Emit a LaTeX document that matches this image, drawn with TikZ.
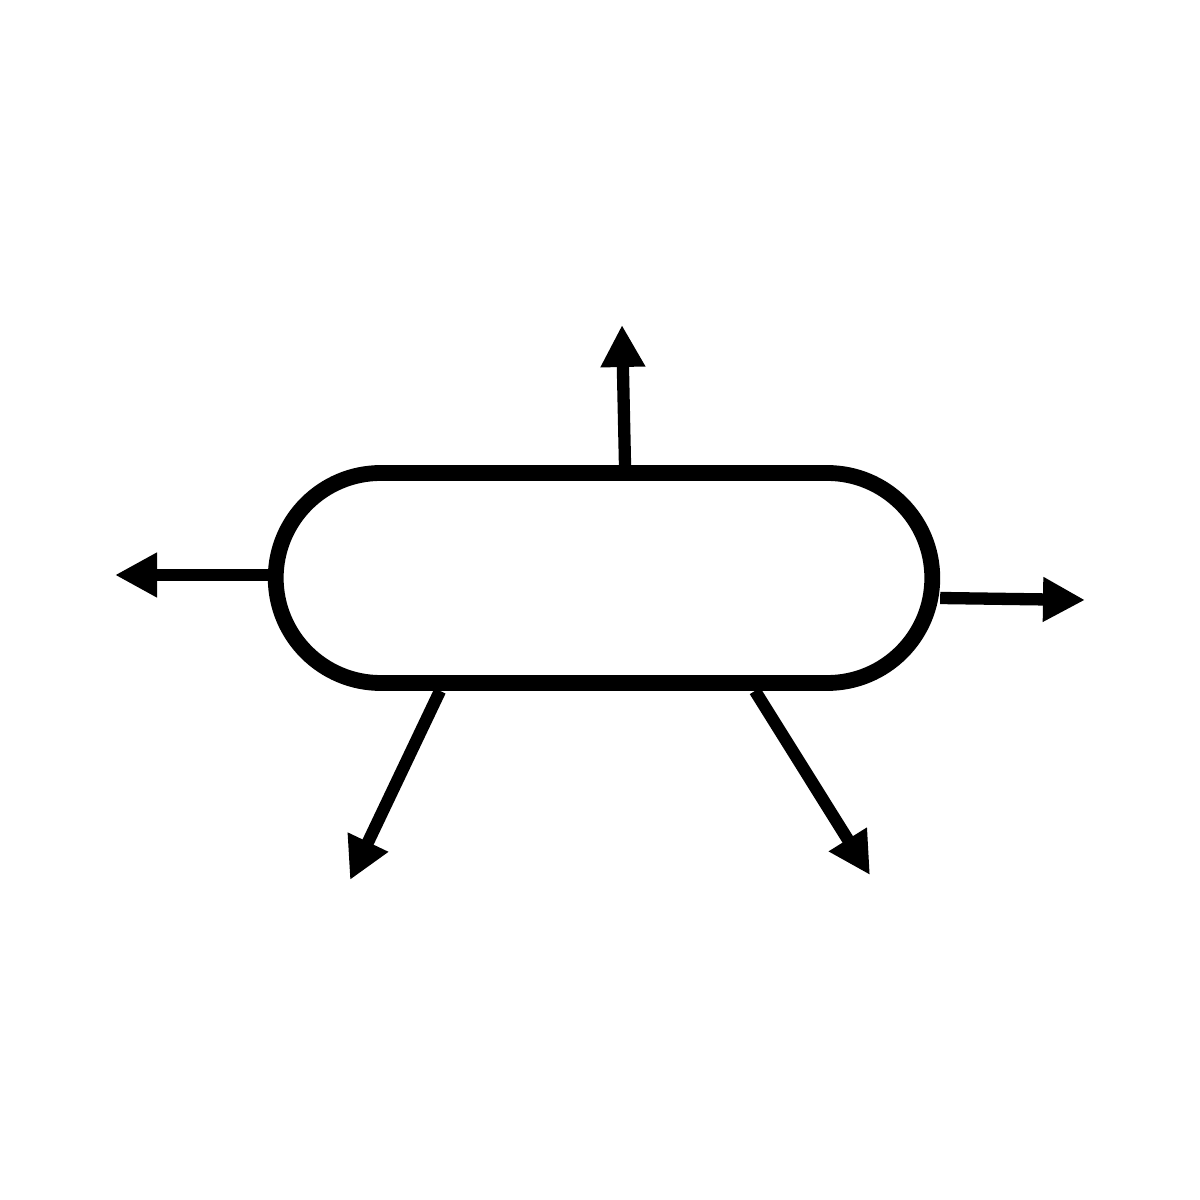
\documentclass[tikz,border=0pt]{standalone}
\usetikzlibrary{arrows.meta}
\usetikzlibrary{shapes.misc}
\usetikzlibrary{positioning}
\tikzset {
  % the central capsule
  pod/.style = {
    draw = black,
    rounded rectangle,
    line width = 4.5pt,
    minimum width = 6.8cm,
    minimum height = 2.1cm
  },
  % rays leaving the capsule
  ray/.style = {
    draw = black,
    line width = 3.5pt,
    -{Triangle[length=0.42cm,width=0.42cm]}
  }
}
\begin{document}
\begin{tikzpicture}
    \useasboundingbox[fill=white] (0,0) rectangle (12,12);
    \node[pod] (pod) at (6.04,6.22) {};

    \coordinate (tip-up) at (6.22,8.75);
    \coordinate (tip-left) at (1.15,6.25);
    \coordinate (tip-right) at (10.85,6.0);
    \coordinate (tip-sw) at (3.50,3.20);
    \coordinate (tip-se) at (8.70,3.25);

    \draw[ray] ([xshift=0.21cm]pod.north) -- (tip-up);
    \draw[ray] ([yshift=0.03cm]pod.west) -- (tip-left);
    \draw[ray] ([yshift=-0.2cm]pod.east) -- (tip-right);
    \draw[ray] ([xshift=-1.64cm]pod.south) -- (tip-sw);
    \draw[ray] ([xshift=1.51cm]pod.south) -- (tip-se);
  \end{tikzpicture}
\end{document}
